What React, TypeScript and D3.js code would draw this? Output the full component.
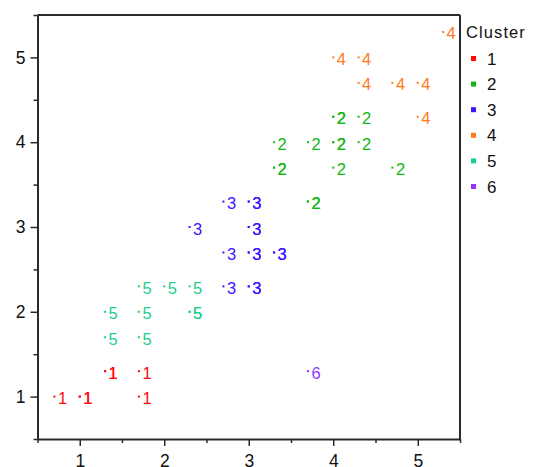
import React, { useEffect, useRef } from 'react';
import * as d3 from 'd3';

// cluster id, x, y for every point (repeated rows are overlapping points)
const clusterIds = [
    1, 1, 1, 1, 1, 1, 1,
    5, 5, 5, 5, 5, 5, 5, 5, 5,
    3, 3, 3, 3, 3, 3, 3, 3, 3, 3, 3, 3, 3, 3,
    2, 2, 2, 2, 2, 2, 2, 2, 2, 2, 2, 2, 2, 2,
    4, 4, 4, 4, 4, 4, 4,
    6,
];
const pointX = [
    0.7, 1, 1, 1.3, 1.3, 1.7, 1.7,
    1.3, 1.3, 1.7, 1.7, 1.7, 2.0, 2.3, 2.3, 2.3,
    2.7, 3, 3, 2.3, 3, 3, 2.7, 3, 3, 3.3, 3.3, 2.7, 3, 3,
    3.7, 3.7, 3.3, 3.3, 4, 4.7, 3.3, 3.7, 4, 4, 4.3, 4, 4, 4.3,
    4, 4.3, 4.3, 4.7, 5, 5, 5.3,
    3.7,
];
const pointY = [
    1, 1, 1, 1.3, 1.3, 1.3, 1,
    2, 1.7, 2, 1.7, 2.3, 2.3, 2.3, 2, 2,
    3.3, 3.3, 3.3, 3, 3, 3, 2.7, 2.7, 2.7, 2.7, 2.7, 2.3, 2.3, 2.3,
    3.3, 3.3, 3.7, 3.7, 3.7, 3.7, 4, 4, 4, 4, 4, 4.3, 4.3, 4.3,
    5, 5, 4.7, 4.7, 4.7, 4.3, 5.3,
    1.3,
];

const clusters = [1, 2, 3, 4, 5, 6];
const clusterColors = ['#ff0a0a', '#12b812', '#3a14ff', '#ff7a22', '#1ecf8c', '#9233ff'];
const majorTicks = [1, 2, 3, 4, 5];
const minorTicks = [0.5, 1.5, 2.5, 3.5, 4.5, 5.5];

export default function App() {
    const svgRef = useRef<SVGSVGElement>(null);

    useEffect(() => {
        const svg = d3.select(svgRef.current);
        svg.selectAll('*').remove();

        const width = 536;
        const height = 467;
        const left = 37.5;
        const right = 460;
        const top = 15;
        const bottom = 439;
        const font = '"Liberation Sans", Arial, sans-serif';
        const axisColor = '#2a2a2a';

        svg.attr('width', width).attr('height', height);

        const x = d3.scaleLinear().domain([0.5, 5.5]).range([left, right]);
        const y = d3.scaleLinear().domain([0.5, 5.5]).range([bottom, top]);
        const color = d3.scaleOrdinal<number, string>().domain(clusters).range(clusterColors);

        // box
        svg.append('line')
            .attr('x1', left).attr('x2', right).attr('y1', top).attr('y2', top)
            .attr('stroke', axisColor).attr('stroke-width', 2);
        svg.append('line')
            .attr('x1', right).attr('x2', right).attr('y1', top).attr('y2', bottom)
            .attr('stroke', axisColor).attr('stroke-width', 2);

        // minor ticks
        svg.append('g')
            .attr('transform', `translate(0,${bottom})`)
            .call(d3.axisBottom(x).tickValues(minorTicks).tickSize(4).tickSizeOuter(0).tickFormat(() => ''))
            .call((g) => g.select('.domain').remove())
            .call((g) => g.selectAll('line').attr('stroke', axisColor).attr('stroke-width', 1.5));
        svg.append('g')
            .attr('transform', `translate(${left},0)`)
            .call(d3.axisLeft(y).tickValues(minorTicks).tickSize(4).tickSizeOuter(0).tickFormat(() => ''))
            .call((g) => g.select('.domain').remove())
            .call((g) => g.selectAll('line').attr('stroke', axisColor).attr('stroke-width', 1.5));

        // major axes
        const xAxis = svg.append('g')
            .attr('transform', `translate(0,${bottom})`)
            .call(d3.axisBottom(x).tickValues(majorTicks).tickSize(7).tickSizeOuter(0).tickPadding(9).tickFormat(d3.format('d')));
        const yAxis = svg.append('g')
            .attr('transform', `translate(${left},0)`)
            .call(d3.axisLeft(y).tickValues(majorTicks).tickSize(7).tickSizeOuter(0).tickPadding(5).tickFormat(d3.format('d')));

        [xAxis, yAxis].forEach((g) => {
            g.select('.domain').attr('stroke', axisColor).attr('stroke-width', 2);
            g.selectAll('line').attr('stroke', axisColor).attr('stroke-width', 1.5);
            g.selectAll('text').attr('fill', '#111').style('font-family', font).style('font-size', '17.5px');
        });

        // points
        const points = clusterIds.map((c, i) => ({ c, x: pointX[i], y: pointY[i] }));
        const pg = svg.append('g');
        pg.selectAll('rect')
            .data(points)
            .enter()
            .append('rect')
            .attr('x', (d) => x(d.x) - 1)
            .attr('y', (d) => y(d.y) - 1)
            .attr('width', 2)
            .attr('height', 2)
            .attr('fill', (d) => color(d.c));
        pg.selectAll('text')
            .data(points)
            .enter()
            .append('text')
            .attr('x', (d) => x(d.x) + 3.5)
            .attr('y', (d) => y(d.y) + 7.5)
            .attr('fill', (d) => color(d.c))
            .style('font-family', font)
            .style('font-size', '16.5px')
            .text((d) => d.c);

        // legend
        const legend = svg.append('g');
        legend.append('text')
            .attr('x', 466)
            .attr('y', 37.5)
            .attr('fill', '#111')
            .style('font-family', font)
            .style('font-size', '16.5px')
            .style('letter-spacing', '1.1px')
            .text('Cluster');
        const rows = legend.selectAll('.row')
            .data(clusters)
            .enter()
            .append('g')
            .attr('class', 'row')
            .attr('transform', (d, i) => `translate(0,${58.5 + i * 25.6})`);
        rows.append('rect')
            .attr('x', 471)
            .attr('y', -2.5)
            .attr('width', 5)
            .attr('height', 5)
            .attr('fill', (d) => color(d));
        rows.append('text')
            .attr('x', 487)
            .attr('y', 6)
            .attr('fill', '#111')
            .style('font-family', font)
            .style('font-size', '17px')
            .text((d) => d);
    }, []);

    return (
        <svg ref={svgRef} style={{ position: 'absolute', left: 0, top: 0, display: 'block' }} />
    );
}
